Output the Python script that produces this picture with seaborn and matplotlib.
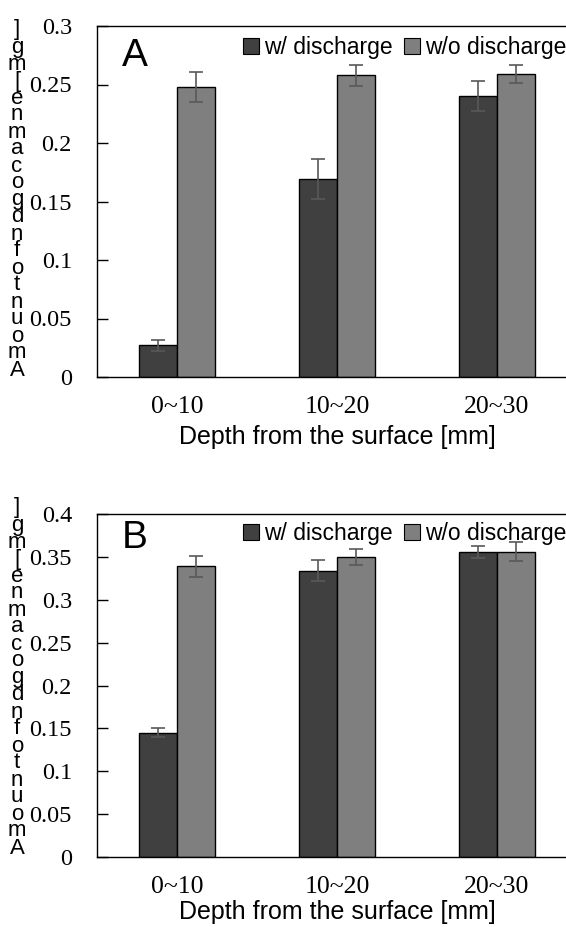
import matplotlib
matplotlib.use("Agg")
import matplotlib.pyplot as plt
import seaborn as sns
import pandas as pd
from matplotlib.patches import Patch

# ---------------- data ----------------
depths = ["0~10", "10~20", "20~30"]
conditions = ["w/ discharge", "w/o discharge"]

a_with = [0.027, 0.169, 0.240]
a_without = [0.248, 0.258, 0.259]
a_err_with = [0.005, 0.017, 0.013]
a_err_without = [0.013, 0.009, 0.0075]

b_with = [0.145, 0.334, 0.356]
b_without = [0.339, 0.350, 0.356]
b_err_with = [0.005, 0.012, 0.007]
b_err_without = [0.012, 0.009, 0.011]

a_yticks = [0, 0.05, 0.1, 0.15, 0.2, 0.25, 0.3]
b_yticks = [0, 0.05, 0.1, 0.15, 0.2, 0.25, 0.3, 0.35, 0.4]

panel_letters = ["A", "B"]
x_label = "Depth from the surface [mm]"
y_label = "Amount of ndgocam ne [mg]"

colors = ["#404040", "#7f7f7f"]

# ---------------- style ----------------
sns.set_style("white")
plt.rcParams["font.family"] = ["Liberation Sans", "DejaVu Sans"]
for k in ("text.color", "axes.labelcolor", "xtick.color", "ytick.color", "axes.edgecolor"):
    plt.rcParams[k] = "black"

W, H = 566, 927
fig = plt.figure(figsize=(W / 100, H / 100), dpi=100)


def px_axes(left, top, right, bottom):
    return fig.add_axes([left / W, 1 - bottom / H, (right - left) / W, (bottom - top) / H])


def draw_panel(ax, vals_w, vals_wo, err_w, err_wo, yticks, letter, letter_y, legend_top, lpad):
    df = pd.DataFrame({
        "depth": depths * 2,
        "condition": [conditions[0]] * 3 + [conditions[1]] * 3,
        "value": list(vals_w) + list(vals_wo),
    })
    sns.barplot(data=df, x="depth", y="value", hue="condition", order=depths,
                hue_order=conditions, palette=colors, width=0.475, gap=0,
                errorbar=None, edgecolor="black", linewidth=1.0, legend=False,
                saturation=1, ax=ax)
    for cont, errs in zip(ax.containers, [err_w, err_wo]):
        for bar, e in zip(cont, errs):
            xc = bar.get_x() + bar.get_width() / 2
            ax.errorbar(xc, bar.get_height(), yerr=e, fmt="none", ecolor="#595959",
                        elinewidth=1.2, capsize=5, capthick=1.2, zorder=5)
    ax.set_xlim(-0.5, 2.5)
    ax.set_ylim(yticks[0], yticks[-1])
    ax.set_yticks(yticks)
    ax.set_yticklabels([f"{t:g}" for t in yticks], family="Liberation Serif", fontsize=17.5)
    ax.set_xticks(range(len(depths)))
    ax.set_xticklabels(depths, family="Liberation Serif", fontsize=18.5)
    ax.tick_params(axis="y", direction="in", length=8, width=1, pad=18, left=True,
                   colors="black")
    ax.tick_params(axis="x", length=0, pad=14, colors="black")
    ax.set_xlabel(x_label, fontsize=18, labelpad=lpad, color="black")
    ax.set_ylabel("")
    for s in ax.spines.values():
        s.set_visible(True)
        s.set_color("black")
        s.set_linewidth(1.0)
    handles = [Patch(facecolor=c, edgecolor="black", linewidth=0.8) for c in colors]
    leg = ax.legend(handles, conditions, loc="upper right", ncol=2, frameon=False,
                    bbox_to_anchor=(1.0, 1 - legend_top / H), bbox_transform=fig.transFigure,
                    fontsize=16.5, handlelength=0.7, handleheight=0.7, handletextpad=0.2,
                    columnspacing=0.5, borderaxespad=0, borderpad=0)
    for t in leg.get_texts():
        t.set_color("black")
    ax.text(38 / 480, letter_y, letter, transform=ax.transAxes, ha="center", va="center",
            fontsize=28, color="black")


axA = px_axes(97, 26, 577, 377)
draw_panel(axA, a_with, a_without, a_err_with, a_err_without, a_yticks,
           panel_letters[0], 0.915, 36, 5)

axB = px_axes(97, 514, 577, 857)
draw_panel(axB, b_with, b_without, b_err_with, b_err_without, b_yticks,
           panel_letters[1], 0.93, 522, 1)

# stacked y label (glyphs upright, reading bottom to top)
glyphs = [c for c in y_label if c != " "][::-1]
stacked = "\n".join(glyphs)
for yc in (200, 678):
    fig.text(17 / W, 1 - yc / H, stacked, ha="center", va="center", fontsize=16,
             linespacing=0.75, color="black")

fig.savefig("out.png", dpi=100)
